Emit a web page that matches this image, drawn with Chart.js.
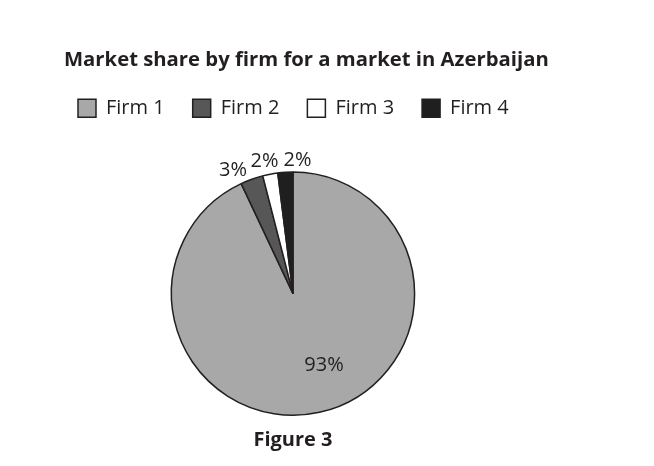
<!DOCTYPE html>
<html>
<head>
<meta charset="utf-8">
<script src="https://cdn.jsdelivr.net/npm/chart.js@4.4.1/dist/chart.umd.min.js"></script>
<style>
  html, body { margin: 0; padding: 0; background: #fff; }
  #wrap { width: 654px; height: 466px; }
</style>
</head>
<body>
<div id="wrap"><canvas id="shareChart" width="654" height="466"></canvas></div>
<script>
// data
const firms = ['Firm 1', 'Firm 2', 'Firm 3', 'Firm 4'];
const shares = [93, 3, 2, 2];
const sliceColors = ['#a8a8a8', '#575757', '#ffffff', '#1f1f1f'];

const ink = '#231f20';
const fontFamily = '"Open Sans", "Noto Sans", sans-serif';

// percent labels, drawn from the arc geometry the library computed
const pctLabels = {
    id: 'pctLabels',
    afterDatasetsDraw(chart) {
        const ctx = chart.ctx;
        const nudge = [[14, -4], [-14, 4], [-3, 1], [13, 2]];
        chart.getDatasetMeta(0).data.forEach(function(arc, i) {
            const p = arc.getProps(['x', 'y', 'startAngle', 'endAngle', 'outerRadius'], true);
            const mid = (p.startAngle + p.endAngle) / 2;
            const r = shares[i] > 10 ? p.outerRadius * 0.64 : p.outerRadius + 14;
            ctx.save();
            ctx.font = '20px ' + fontFamily;
            ctx.fillStyle = ink;
            ctx.textAlign = 'center';
            ctx.textBaseline = 'middle';
            ctx.fillText(shares[i] + '%', p.x + Math.cos(mid) * r + nudge[i][0], p.y + Math.sin(mid) * r + nudge[i][1]);
            ctx.restore();
        });
    }
};

// legend: one row across the page, a little left of the title, room above the pie.
// title box widened too so the text isn't squeezed to the pie's column
const legendTweak = {
    id: 'legendTweak',
    beforeInit(chart) {
        const fit = chart.legend.fit;
        chart.legend.fit = function() {
            this.maxWidth = 640;
            fit.call(this);
            this.height += 43;
        };
    },
    afterLayout(chart) {
        chart.legend.left -= 14;
        chart.legend.right = chart.width - 4;
        chart.titleBlock.right = chart.width - 4;
    }
};

new Chart(document.getElementById('shareChart').getContext('2d'), {
    type: 'pie',
    data: {
        labels: firms,
        datasets: [{
            data: shares,
            backgroundColor: sliceColors,
            borderColor: ink,
            borderWidth: 1.5
        }]
    },
    options: {
        responsive: false,
        animation: false,
        layout: { padding: { left: 64, right: 132, top: 50, bottom: 16 } },
        plugins: {
            title: {
                display: true,
                text: 'Market share by firm for a market in Azerbaijan',
                align: 'start',
                color: ink,
                font: { family: fontFamily, size: 20.3, weight: 'bold', lineHeight: 1 },
                padding: { top: 0, bottom: 0 }
            },
            subtitle: {
                display: true,
                position: 'bottom',
                text: 'Figure 3',
                color: ink,
                font: { family: fontFamily, size: 20, weight: 'bold', lineHeight: 1 },
                padding: { top: 14, bottom: 0 }
            },
            legend: {
                position: 'top',
                align: 'start',
                labels: {
                    boxWidth: 18,
                    boxHeight: 18,
                    padding: 28,
                    color: ink,
                    font: { family: fontFamily, size: 20 }
                }
            },
            tooltip: { enabled: false }
        }
    },
    plugins: [pctLabels, legendTweak]
});
</script>
</body>
</html>
